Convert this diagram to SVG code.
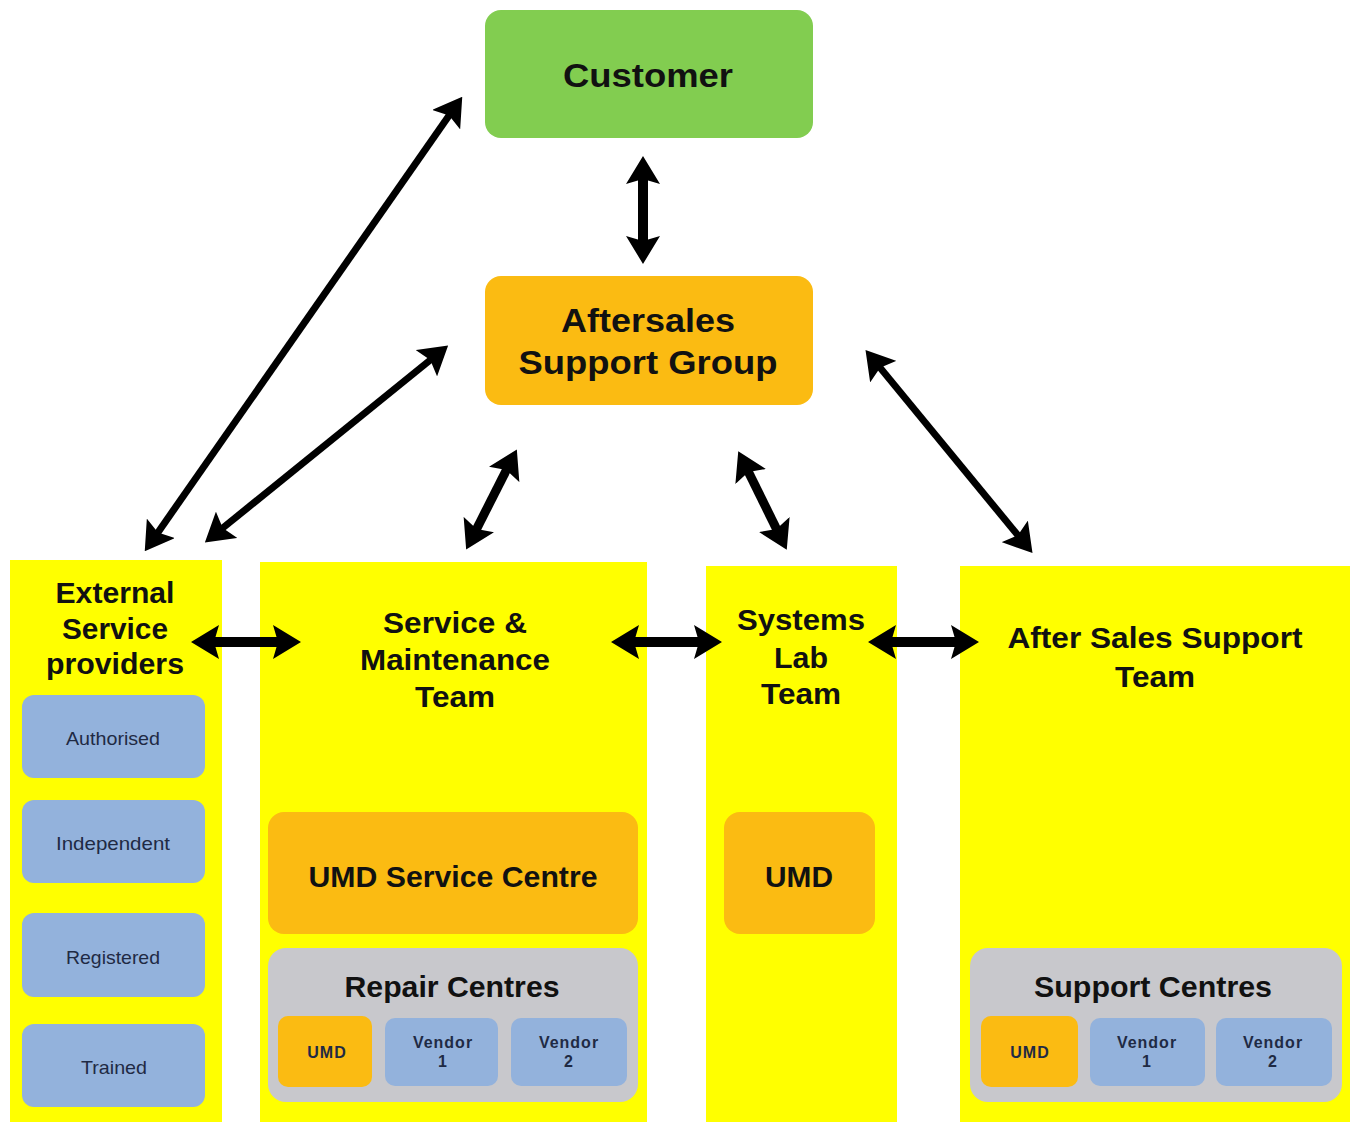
<svg xmlns="http://www.w3.org/2000/svg" width="1354" height="1122" viewBox="0 0 1354 1122">
<defs>
<style>
.col{fill:#ffff00}
.green{fill:#82cd50}
.orange{fill:#fbbb12}
.blue{fill:#93b2dc}
.grey{fill:#c8c8cc}
text{font-family:"Liberation Sans",Arial,sans-serif;fill:#111;text-anchor:middle}
.big{font-size:33px;font-weight:bold}
.hd{font-size:30px;font-weight:bold}
.sm{font-size:19px;fill:#1f2a44}
.xs{font-size:16px;font-weight:bold;fill:#1f2a44;letter-spacing:1px}
.conn line{stroke:#000;stroke-width:9}
</style>
<marker id="ah" markerUnits="userSpaceOnUse" markerWidth="28" markerHeight="34" viewBox="0 0 28 34" refX="8" refY="17" orient="auto-start-reverse">
<path d="M0,0 L28,17 L0,34 L5,17 z" fill="#000"/>
</marker>
</defs>
<rect width="1354" height="1122" fill="#fff"/>

<g id="customer">
<rect class="green" x="485" y="10" width="328" height="128" rx="16"/>
<text class="big" x="648" y="87" textLength="170" lengthAdjust="spacingAndGlyphs">Customer</text>
</g>
<g id="aftersales">
<rect class="orange" x="485" y="276" width="328" height="129" rx="16"/>
<text class="big" x="648" y="332" textLength="174" lengthAdjust="spacingAndGlyphs">Aftersales</text>
<text class="big" x="648" y="374" textLength="259" lengthAdjust="spacingAndGlyphs">Support Group</text>
</g>

<g id="external">
<rect class="col" x="10" y="560" width="212" height="562"/>
<text class="hd" x="115" y="603" textLength="119" lengthAdjust="spacingAndGlyphs">External</text>
<text class="hd" x="115" y="639" textLength="106" lengthAdjust="spacingAndGlyphs">Service</text>
<text class="hd" x="115" y="674" textLength="138" lengthAdjust="spacingAndGlyphs">providers</text>
<rect class="blue" x="22" y="695" width="183" height="83" rx="12"/>
<text class="sm" x="113" y="745" textLength="94" lengthAdjust="spacingAndGlyphs">Authorised</text>
<rect class="blue" x="22" y="800" width="183" height="83" rx="12"/>
<text class="sm" x="113" y="850" textLength="114" lengthAdjust="spacingAndGlyphs">Independent</text>
<rect class="blue" x="22" y="913" width="183" height="84" rx="12"/>
<text class="sm" x="113" y="964" textLength="94" lengthAdjust="spacingAndGlyphs">Registered</text>
<rect class="blue" x="22" y="1024" width="183" height="83" rx="12"/>
<text class="sm" x="114" y="1074" textLength="66" lengthAdjust="spacingAndGlyphs">Trained</text>
</g>

<g id="service">
<rect class="col" x="260" y="562" width="387" height="560"/>
<text class="hd" x="455" y="633" textLength="144" lengthAdjust="spacingAndGlyphs">Service &amp;</text>
<text class="hd" x="455" y="670" textLength="190" lengthAdjust="spacingAndGlyphs">Maintenance</text>
<text class="hd" x="455" y="707" textLength="80" lengthAdjust="spacingAndGlyphs">Team</text>
<rect class="orange" x="268" y="812" width="370" height="122" rx="16"/>
<text class="hd" x="453" y="887" textLength="289" lengthAdjust="spacingAndGlyphs">UMD Service Centre</text>
<rect class="grey" x="268" y="948" width="370" height="154" rx="18"/>
<text class="hd" x="452" y="997" textLength="215" lengthAdjust="spacingAndGlyphs">Repair Centres</text>
<rect class="orange" x="278" y="1016" width="94" height="71" rx="10"/>
<text class="xs" x="327" y="1058">UMD</text>
<rect class="blue" x="385" y="1018" width="113" height="68" rx="10"/>
<text class="xs" x="443" y="1048">Vendor</text>
<text class="xs" x="443" y="1067">1</text>
<rect class="blue" x="511" y="1018" width="116" height="68" rx="10"/>
<text class="xs" x="569" y="1048">Vendor</text>
<text class="xs" x="569" y="1067">2</text>
</g>

<g id="systems">
<rect class="col" x="706" y="566" width="191" height="556"/>
<text class="hd" x="801" y="630" textLength="128" lengthAdjust="spacingAndGlyphs">Systems</text>
<text class="hd" x="801" y="668" textLength="54" lengthAdjust="spacingAndGlyphs">Lab</text>
<text class="hd" x="801" y="704" textLength="80" lengthAdjust="spacingAndGlyphs">Team</text>
<rect class="orange" x="724" y="812" width="151" height="122" rx="16"/>
<text class="hd" x="799" y="887" textLength="68" lengthAdjust="spacingAndGlyphs">UMD</text>
</g>

<g id="aftersalesteam">
<rect class="col" x="960" y="566" width="390" height="556"/>
<text class="hd" x="1155" y="648" textLength="295" lengthAdjust="spacingAndGlyphs">After Sales Support</text>
<text class="hd" x="1155" y="687" textLength="80" lengthAdjust="spacingAndGlyphs">Team</text>
<rect class="grey" x="970" y="948" width="372" height="154" rx="18"/>
<text class="hd" x="1153" y="997" textLength="238" lengthAdjust="spacingAndGlyphs">Support Centres</text>
<rect class="orange" x="981" y="1016" width="97" height="71" rx="10"/>
<text class="xs" x="1030" y="1058">UMD</text>
<rect class="blue" x="1090" y="1018" width="115" height="68" rx="10"/>
<text class="xs" x="1147" y="1048">Vendor</text>
<text class="xs" x="1147" y="1067">1</text>
<rect class="blue" x="1216" y="1018" width="116" height="68" rx="10"/>
<text class="xs" x="1273" y="1048">Vendor</text>
<text class="xs" x="1273" y="1067">2</text>
</g>

<g id="connectors" class="conn">
<line x1="643" y1="176" x2="643" y2="244" marker-start="url(#ah)" marker-end="url(#ah)" style="stroke-width:10"/>
<line x1="450.8" y1="113.1" x2="156.2" y2="534.9" marker-start="url(#ah)" marker-end="url(#ah)" style="stroke-width:7"/>
<line x1="432.6" y1="358.1" x2="220.4" y2="529.9" marker-start="url(#ah)" marker-end="url(#ah)" style="stroke-width:7"/>
<line x1="507.8" y1="467.3" x2="475.2" y2="531.7" marker-start="url(#ah)" marker-end="url(#ah)"/>
<line x1="747.1" y1="469.3" x2="777.9" y2="531.7" marker-start="url(#ah)" marker-end="url(#ah)"/>
<line x1="878.2" y1="365.4" x2="1019.8" y2="537.6" marker-start="url(#ah)" marker-end="url(#ah)" style="stroke-width:7"/>
<line x1="211" y1="642" x2="281" y2="642" marker-start="url(#ah)" marker-end="url(#ah)" style="stroke-width:10"/>
<line x1="631" y1="642" x2="702" y2="642" marker-start="url(#ah)" marker-end="url(#ah)" style="stroke-width:10"/>
<line x1="888" y1="642" x2="959" y2="642" marker-start="url(#ah)" marker-end="url(#ah)" style="stroke-width:10"/>
</g>
</svg>
